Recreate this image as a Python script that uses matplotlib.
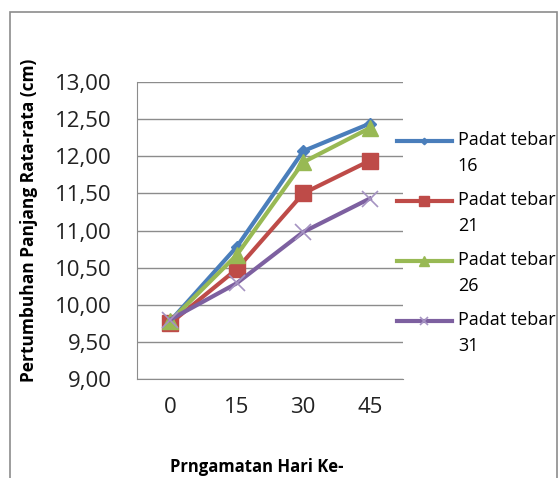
import matplotlib
matplotlib.use("Agg")
import numpy as np
import matplotlib.pyplot as plt
from matplotlib.patches import Rectangle
from matplotlib.lines import Line2D
from matplotlib.legend_handler import HandlerLine2D
from matplotlib.ticker import FuncFormatter, MultipleLocator

# data
days = ["0", "15", "30", "45"]
padat_16 = [9.78, 10.78, 12.07, 12.44]
padat_21 = [9.75, 10.48, 11.50, 11.94]
padat_26 = [9.78, 10.67, 11.92, 12.38]
padat_31 = [9.80, 10.29, 10.98, 11.43]
labels = ["Padat tebar\n16", "Padat tebar\n21", "Padat tebar\n26", "Padat tebar\n31"]


class TopLineHandler(HandlerLine2D):
    # put the legend line level with the first text line, as Excel does
    def create_artists(self, legend, orig_handle, xdescent, ydescent,
                       width, height, fontsize, trans):
        arts = super().create_artists(legend, orig_handle, xdescent, ydescent,
                                      width, height, fontsize, trans)
        for a in arts:
            a.set_ydata(np.asarray(a.get_ydata()) + 9.0)
        return arts


plt.rcParams['font.family'] = ['Open Sans', 'DejaVu Sans']

fig = plt.figure(figsize=(5.59, 4.78), dpi=100)
ax = fig.add_axes([0.2451, 0.2071, 0.4758, 0.6213])

x = range(len(days))
ax.plot(x, padat_16, color='#4A7EBB', lw=3, marker='D', ms=6, label=labels[0])
ax.plot(x, padat_21, color='#BE4B48', lw=3, marker='s', ms=12, label=labels[1])
ax.plot(x, padat_26, color='#98B954', lw=3, marker='^', ms=12, label=labels[2])
ax.plot(x, padat_31, color='#7D60A0', lw=3, marker='x', ms=11, mew=1.2,
        mec='#A593C2', label=labels[3])

ax.set_xlim(-0.5, 3.5)
ax.set_ylim(9, 13)
ax.yaxis.set_major_locator(MultipleLocator(0.5))
ax.yaxis.set_major_formatter(FuncFormatter(lambda v, p: f"{v:.2f}".replace('.', ',')))
ax.set_xticks(list(x))
ax.set_xticklabels(days)
ax.tick_params(axis='both', length=0, labelsize=16, colors='#222222')
ax.tick_params(axis='y', pad=18)
ax.tick_params(axis='x', pad=13)

ax.grid(axis='y', color='#8C8C8C', lw=1)
ax.set_axisbelow(True)
for s in ['top', 'right']:
    ax.spines[s].set_visible(False)
ax.spines['left'].set_color('#8C8C8C')
ax.spines['bottom'].set_color('#8C8C8C')

ax.set_ylabel("Pertumbuhan Panjang Rata-rata (cm)", fontsize=12.5, fontweight='bold')
ax.yaxis.set_label_coords(-0.372, 0.535)
ax.set_xlabel("Prngamatan Hari Ke-", fontsize=12, fontweight='bold')
ax.xaxis.set_label_coords(0.45, -0.266)

leg = ax.legend(loc='upper left', bbox_to_anchor=(0.977, 0.835), frameon=False,
                fontsize=13, handlelength=3.05, handletextpad=0.33,
                labelspacing=0.9, markerscale=0.55, borderaxespad=0,
                borderpad=0, handler_map={Line2D: TopLineHandler()})
for t in leg.get_texts():
    t.set_linespacing(1.55)

# outer chart border
fig.patches.append(Rectangle((10 / 559, -0.1), 547 / 559, 1.1 - 12 / 478,
                             transform=fig.transFigure, fill=False,
                             edgecolor='#8C8C8C', lw=1.2))

fig.savefig("out.png", dpi=100)
